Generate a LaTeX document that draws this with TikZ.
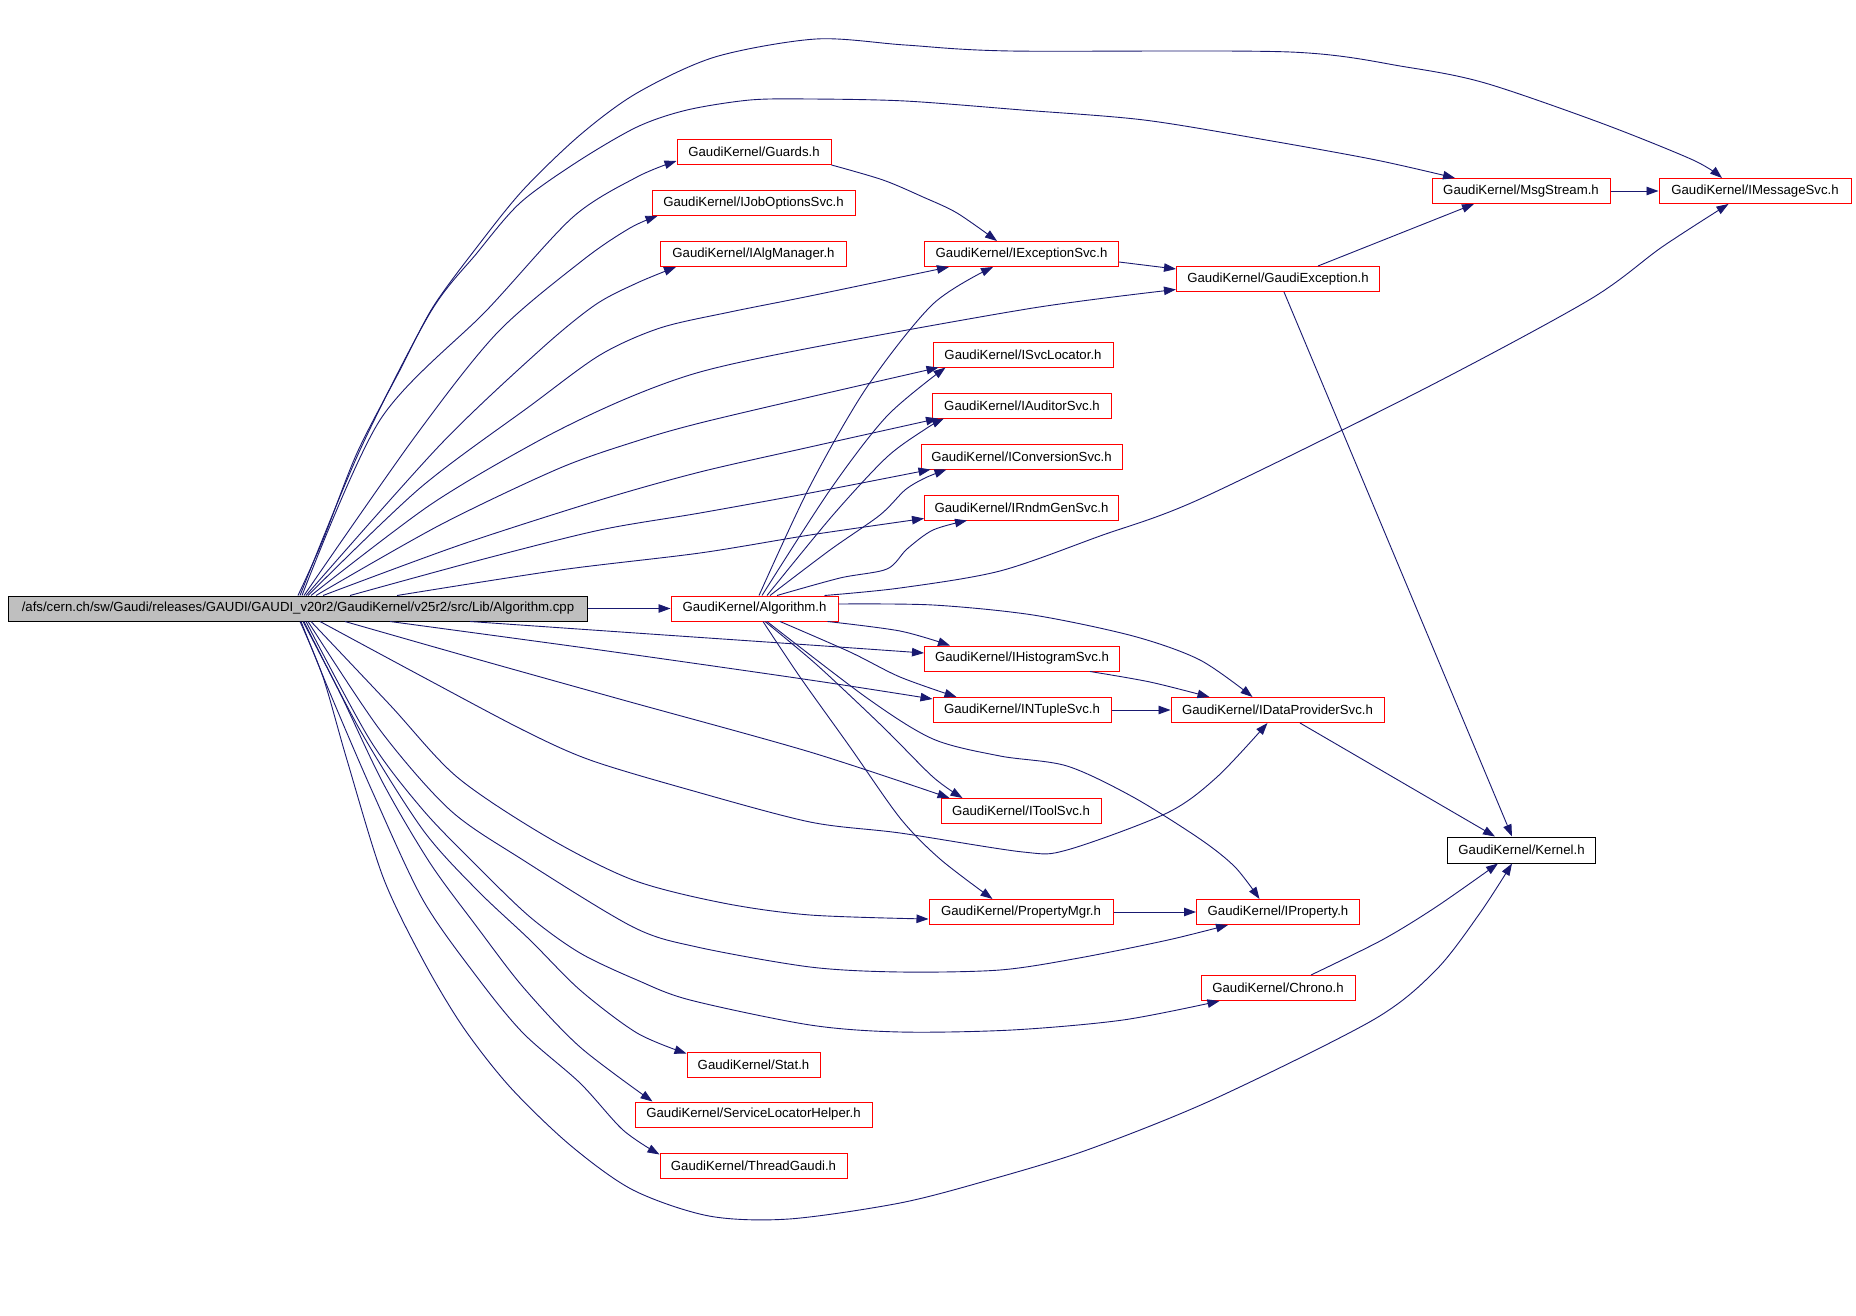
\documentclass[tikz,border=0pt]{standalone}
\usepackage{fontspec}
\setmainfont{Liberation Sans}
\usetikzlibrary{arrows.meta}
\definecolor{edgeblue}{RGB}{25,25,112}
\definecolor{boxred}{RGB}{255,0,0}
\definecolor{rootgray}{RGB}{191,191,191}
\tikzset{
  hbox/.style={draw=boxred, fill=white, line width=1pt, inner sep=0pt, minimum height=25pt,
    font=\fontsize{13.2}{16}\selectfont, text=black},
  rootbox/.style={hbox, draw=black, fill=rootgray},
  kbox/.style={hbox, draw=black},
  dep/.style={draw=edgeblue, line width=0.9pt, -{Triangle[length=12pt,width=8.5pt]}},
}
\begin{document}
\begin{tikzpicture}[x=1pt,y=-1pt]
\useasboundingbox[fill=white] (0,0) rectangle (1856,1316);
% nodes
\node[rootbox, minimum width=579pt] (root) at (298,608.5) {/afs/cern.ch/sw/Gaudi/releases/GAUDI/GAUDI\_v20r2/GaudiKernel/v25r2/src/Lib/Algorithm.cpp};
\node[hbox, minimum width=167pt] (alg) at (754.5,608.5) {GaudiKernel/Algorithm.h};
\node[hbox, minimum width=154pt] (guards) at (754,152) {GaudiKernel/Guards.h};
\node[hbox, minimum width=203pt] (ijob) at (753.5,203) {GaudiKernel/IJobOptionsSvc.h};
\node[hbox, minimum width=186pt] (ialg) at (753.5,254) {GaudiKernel/IAlgManager.h};
\node[hbox, minimum width=194pt] (iexc) at (1021.5,254) {GaudiKernel/IExceptionSvc.h};
\node[hbox, minimum width=203pt] (gexc) at (1278,279) {GaudiKernel/GaudiException.h};
\node[hbox, minimum width=178pt] (msg) at (1521,191) {GaudiKernel/MsgStream.h};
\node[hbox, minimum width=192pt] (imsg) at (1755,191) {GaudiKernel/IMessageSvc.h};
\node[hbox, minimum width=180pt] (isvc) at (1023,354.5) {GaudiKernel/ISvcLocator.h};
\node[hbox, minimum width=179pt] (iaud) at (1022,405.5) {GaudiKernel/IAuditorSvc.h};
\node[hbox, minimum width=201pt] (iconv) at (1021.5,456.5) {GaudiKernel/IConversionSvc.h};
\node[hbox, minimum width=194pt] (irndm) at (1021.5,507.5) {GaudiKernel/IRndmGenSvc.h};
\node[hbox, minimum width=195pt] (ihist) at (1022,658.5) {GaudiKernel/IHistogramSvc.h};
\node[hbox, minimum width=178pt] (intup) at (1022,710) {GaudiKernel/INTupleSvc.h};
\node[hbox, minimum width=213pt] (idata) at (1277.5,710) {GaudiKernel/IDataProviderSvc.h};
\node[hbox, minimum width=160pt] (itool) at (1021,811) {GaudiKernel/IToolSvc.h};
\node[kbox, minimum width=148pt, minimum height=26pt] (kernel) at (1521.5,850) {GaudiKernel/Kernel.h};
\node[hbox, minimum width=184pt] (pmgr) at (1021,912) {GaudiKernel/PropertyMgr.h};
\node[hbox, minimum width=163pt] (iprop) at (1278,912) {GaudiKernel/IProperty.h};
\node[hbox, minimum width=154pt] (chrono) at (1278,988) {GaudiKernel/Chrono.h};
\node[hbox, minimum width=133pt] (stat) at (753.5,1064.5) {GaudiKernel/Stat.h};
\node[hbox, minimum width=237pt] (slh) at (753.5,1114.5) {GaudiKernel/ServiceLocatorHelper.h};
\node[hbox, minimum width=187pt] (thread) at (753.5,1165.5) {GaudiKernel/ThreadGaudi.h};

% root top fan
\draw[dep] plot[smooth] coordinates {(root.north) (323,540) (357,453) (400,370) (433,307) (477,247) (523,190) (580,135) (637,93) (715,57) (816,39) (905,45) (1010,51) (1290,52) (1406,67) (1485,83) (1601,123) (1693,160) ([xshift=-33pt]imsg.north)};
\draw[dep] plot[smooth] coordinates {([xshift=2pt]root.north) (360,450) (430,313) (477,253) (520,203) (577,162) (637,127) (687,110) (750,100) (810,99) (905,101) (1022,110) (1144,120) (1266,140) (1376,160) ([xshift=-66pt]msg.north)};
\draw[dep] plot[smooth] coordinates {([xshift=4pt]root.north) (380,420) (487,310) (573,217) (637,177) ([yshift=-9pt]guards.west)};
\draw[dep] plot[smooth] coordinates {([xshift=6pt]root.north) (414,438) (497,333) (583,260) (630,228) ([xshift=6pt]ijob.south west)};
\draw[dep] plot[smooth] coordinates {([xshift=8pt]root.north) (440,445) (540,350) (595,305) (637,283) ([xshift=16pt]ialg.south west)};
\draw[dep] plot[smooth] coordinates {([xshift=10pt]root.north) (420,488) (530,406) (600,355) (660,328) (730,312) (810,296) ([xshift=25pt]iexc.south west)};
\draw[dep] plot[smooth] coordinates {([xshift=13pt]root.north) (430,505) (540,440) (623,400) (700,372) (810,348) (1033,308) ([yshift=2.5pt]gexc.south west)};
\draw[dep] plot[smooth] coordinates {([xshift=18pt]root.north) (440,525) (560,468) (640,440) (700,423) (810,397) ([xshift=6pt]isvc.south west)};
\draw[dep] plot[smooth] coordinates {([xshift=25pt]root.north) (460,545) (600,500) (700,472) (810,447) ([xshift=6pt]iaud.south west)};
\draw[dep] plot[smooth] coordinates {([xshift=52pt]root.north) (480,560) (600,530) (700,513) (810,493) ([xshift=10pt]iconv.south west)};
\draw[dep] plot[smooth] coordinates {([xshift=99pt]root.north) (560,570) (700,553) (810,535) ([yshift=2pt]irndm.south west)};
\draw[dep] (root.east) -- (alg.west);

% root bottom fan
\draw[dep] plot[smooth] coordinates {([xshift=172pt]root.south) (650,634) (810,645) ([yshift=5.5pt]ihist.west)};
\draw[dep] plot[smooth] coordinates {([xshift=92pt]root.south) (600,650) (810,680) ([yshift=-2pt]intup.north west)};
\draw[dep] plot[smooth] coordinates {([xshift=47pt]root.south) (480,660) (623,700) (810,752) ([xshift=9pt]itool.north west)};
\draw[dep] plot[smooth] coordinates {([xshift=22pt]root.south) (423,677) (523,730) (590,760) (690,790) (810,822) (900,833) (1023,852) (1067,850) (1167,813) (1217,777) ([xshift=-10pt]idata.south)};
\draw[dep] plot[smooth] coordinates {([xshift=13pt]root.south) (390,705) (457,777) (547,837) (633,880) (723,903) (810,915) ([yshift=-7pt]pmgr.west)};
\draw[dep] plot[smooth] coordinates {([xshift=10pt]root.south) (380,730) (450,810) (523,860) (633,927) (697,947) (810,967) (900,972) (1000,970) (1079,958) (1168,940) ([xshift=32pt]iprop.south west)};
\draw[dep] plot[smooth] coordinates {([xshift=8pt]root.south) (370,740) (423,810) (477,866) (530,917) (580,953) (637,980) (690,1000) (810,1025) (900,1032) (1012,1030) (1123,1020) ([xshift=19pt]chrono.south west)};
\draw[dep] plot[smooth] coordinates {([xshift=6pt]root.south) (360,730) (423,830) (477,890) (530,940) (580,990) (637,1033) ([yshift=-2pt]stat.north west)};
\draw[dep] plot[smooth] coordinates {([xshift=5pt]root.south) (340,693) (383,783) (430,863) (477,927) (523,987) (580,1047) ([xshift=18pt]slh.north west)};
\draw[dep] plot[smooth] coordinates {([xshift=3pt]root.south) (330,693) (373,793) (423,900) (477,977) (523,1033) (580,1083) (623,1130) ([yshift=-2pt]thread.north west)};
\draw[dep] plot[smooth] coordinates {([xshift=2pt]root.south) (323,677) (347,760) (383,877) (423,960) (463,1027) (510,1087) (570,1145) (633,1190) (709,1216) (789,1219) (900,1203) (989,1180) (1087,1150) (1212,1100) (1373,1020) (1436,970) (1480,913) ([xshift=-9.5pt]kernel.south)};

% Algorithm.h edges
\draw[dep] plot[smooth] coordinates {([xshift=4.5pt]alg.north) (810,486) (867,387) (933,304) ([xshift=-28.5pt]iexc.south)};
\draw[dep] plot[smooth] coordinates {([xshift=7.5pt]alg.north) (830,490) (887,416) ([xshift=13pt]isvc.south west)};
\draw[dep] plot[smooth] coordinates {([xshift=12.5pt]alg.north) (833,515) (887,457) (927,428) ([xshift=12pt]iaud.south west)};
\draw[dep] plot[smooth] coordinates {([xshift=15.5pt]alg.north) (830,550) (880,515) (905,490) (925,478) ([xshift=26pt]iconv.south west)};
\draw[dep] plot[smooth] coordinates {([xshift=22.5pt]alg.north) (840,578) (887,569) (907,549) (933,530) ([xshift=43pt]irndm.south west)};
\draw[dep] plot[smooth] coordinates {([xshift=-14pt]alg.north east) (900,588) (1000,571) (1100,536) (1200,499) (1420,391) (1589,300) (1662,247) ([xshift=70pt]imsg.south west)};
\draw[dep] plot[smooth] coordinates {([yshift=4.5pt]alg.east) (933,605) (1033,615) (1133,636) (1200,660) ([xshift=82pt]idata.north west)};
\draw[dep] plot[smooth] coordinates {([xshift=-11pt]alg.south east) (900,631) ([xshift=26pt]ihist.north west)};
\draw[dep] plot[smooth] coordinates {([xshift=25.5pt]alg.south) (850,652) (900,677) ([xshift=24pt]intup.north west)};
\draw[dep] plot[smooth] coordinates {([xshift=10.5pt]alg.south) (817,665) (883,727) (933,777) ([xshift=22pt]itool.north west)};
\draw[dep] plot[smooth] coordinates {([xshift=8.5pt]alg.south) (800,677) (850,747) (900,818) (940,859) ([xshift=64pt]pmgr.north west)};
\draw[dep] plot[smooth] coordinates {([xshift=12.5pt]alg.south) (867,698) (933,739) (1000,756) (1067,766) (1133,797) (1200,839) (1235,867) ([xshift=63.5pt]iprop.north west)};

% other edges
\draw[dep] plot[smooth] coordinates {(guards.south east) (883,180) (923,197) (957,213) ([xshift=-24.5pt]iexc.north)};
\draw[dep] ([yshift=-8pt]iexc.east) -- ([yshift=10pt]gexc.west);
\draw[dep] ([xshift=40pt]gexc.north) -- ([xshift=-47pt]msg.south);
\draw[dep] (msg.east) -- (imsg.west);
\draw[dep] ([xshift=6pt]gexc.south) -- ([xshift=-9.5pt]kernel.north);
\draw[dep] ([xshift=22.5pt]idata.south) -- ([xshift=-26.5pt]kernel.north);
\draw[dep] plot[smooth] coordinates {([xshift=33pt]chrono.north) (1382,940) (1436,907) ([xshift=-23.5pt]kernel.south)};
\draw[dep] plot[smooth] coordinates {([xshift=68pt]ihist.south) (1150,682) ([xshift=39pt]idata.north west)};
\draw[dep] (intup.east) -- (idata.west);
\draw[dep] (pmgr.east) -- (iprop.west);
\end{tikzpicture}
\end{document}
